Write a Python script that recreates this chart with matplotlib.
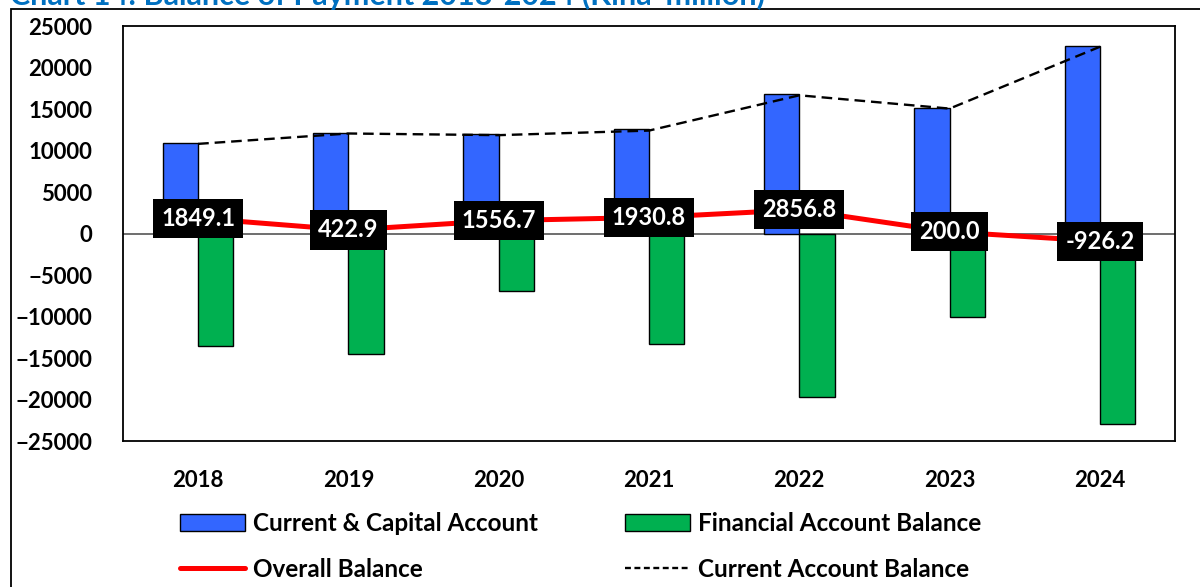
import matplotlib
matplotlib.use("Agg")
import matplotlib.pyplot as plt
import numpy as np
from matplotlib.lines import Line2D
from matplotlib.patches import Rectangle

years = ["2018", "2019", "2020", "2021", "2022", "2023", "2024"]
current_capital = [10900, 12150, 11950, 12550, 16800, 15150, 22650]
financial = [-13600, -14550, -6900, -13300, -19650, -10100, -23000]
overall = [1849.1, 422.9, 1556.7, 1930.8, 2856.8, 200.0, -926.2]
current_account = [10800, 12050, 11850, 12400, 16650, 15050, 22500]

FONT = "Lato"
BLUE = "#3366FF"
GREEN = "#00B050"

plt.rcParams["font.family"] = FONT
plt.rcParams["font.weight"] = "bold"

fig = plt.figure(figsize=(12, 5.87), dpi=100)
ax = fig.add_axes([0.1025, 0.2487, 0.8767, 0.707])

x = np.arange(len(years))
w = 0.235
ax.bar(x - w / 2, current_capital, width=w, color=BLUE, edgecolor="black",
       linewidth=1, label="Current & Capital Account", zorder=2)
ax.bar(x + w / 2, financial, width=w, color=GREEN, edgecolor="black",
       linewidth=1, label="Financial Account Balance", zorder=2)
ax.axhline(0, color="#555555", linewidth=1.2, zorder=1)
ax.plot(x, current_account, color="black", linestyle=(0, (4.5, 2.5)), linewidth=1.7,
        label="Current Account Balance", zorder=3)
ax.plot(x, overall, color="#FF0000", linewidth=3.6, solid_capstyle="round",
        label="Overall Balance", zorder=4)

for xi, v in zip(x, overall):
    ax.text(xi, v, f"{v:.1f}", ha="center", va="center", color="white",
            fontsize=17, fontweight="bold", zorder=5,
            bbox=dict(boxstyle="square,pad=0.34", facecolor="black", edgecolor="none"))

ax.set_xlim(-0.5, len(years) - 0.5)
ax.set_ylim(-25000, 25000)
ax.set_yticks(np.arange(-25000, 25001, 5000))
ax.set_xticks(x)
ax.set_xticklabels(years)
ax.tick_params(axis="both", length=0, labelsize=16)
ax.tick_params(axis="y", pad=22)
ax.tick_params(axis="x", pad=21)
for lbl in ax.get_xticklabels() + ax.get_yticklabels():
    lbl.set_fontweight("bold")
for s in ax.spines.values():
    s.set_linewidth(1.3)
    s.set_color("black")

handles, labels = ax.get_legend_handles_labels()
hmap = dict(zip(labels, handles))
# the legend key for the dashed line uses short dashes like the original
dash_key = Line2D([], [], color="black", linestyle=(0, (2.5, 1.5)), linewidth=1.7)
leg_kw = dict(frameon=False, fontsize=17.5, handlelength=2.67, handleheight=0.7,
              handletextpad=0.33, labelspacing=0.93, borderaxespad=0, borderpad=0)
fig.legend([hmap["Current & Capital Account"], hmap["Overall Balance"]],
           ["Current & Capital Account", "Overall Balance"],
           loc="upper left", bbox_to_anchor=(180 / 1200, 1 - 512 / 587), **leg_kw)
fig.legend([hmap["Financial Account Balance"], dash_key],
           ["Financial Account Balance", "Current Account Balance"],
           loc="upper left", bbox_to_anchor=(625 / 1200, 1 - 512 / 587), **leg_kw)

# outer chart frame (right side runs off the image)
fig.patches.append(Rectangle((11 / 1200, -0.05), 1.1, 1 - 9 / 587 + 0.05,
                             transform=fig.transFigure, fill=False,
                             edgecolor="black", linewidth=1.3))

# title sits mostly above the visible image, as in the source crop
fig.text(10 / 1200, 1 - 5 / 587, "Chart 14: Balance of Payment 2018-2024 (Kina' million)",
         color="#0070C0", fontsize=22, fontweight="bold", va="baseline", ha="left")

fig.savefig("out.png", dpi=100)
